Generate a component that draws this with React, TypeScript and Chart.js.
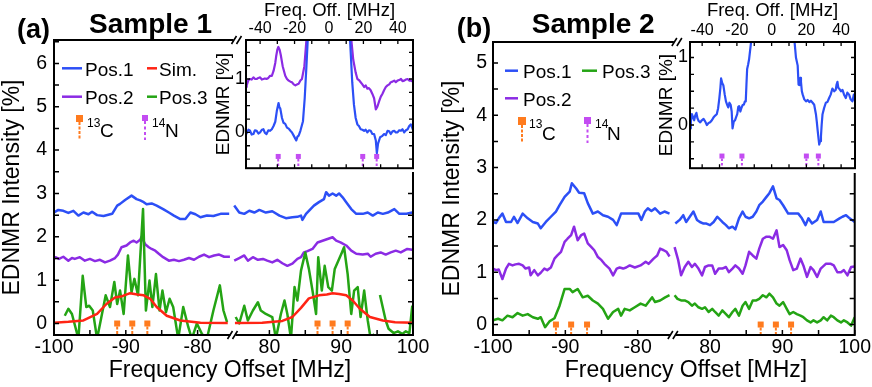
import { useEffect, useRef } from "react";
import { Chart, registerables } from "chart.js";

Chart.register(...registerables);

type P = [number, number | null];

const FONT = '"Liberation Sans", Arial, Helvetica, sans-serif';
const BLUE = "#2C4FF6";
const PURPLE = "#8B2BE4";
const GREEN = "#24A414";
const RED = "#FF2414";
const ORANGE = "#FF7B1E";
const MAGENTA = "#C34CF2";

// ---------------- Sample 1 (a) main panel: [MHz, %] ----------------
const A_POS1_L: P[] = [[-100,2.56],[-99.4,2.62],[-98.7,2.6],[-98,2.55],[-97.3,2.6],[-96.6,2.49],[-95.9,2.56],[-95.2,2.52],[-94.7,2.58],[-94,2.5],[-93.1,2.48],[-91.9,2.53],[-91.2,2.72],[-90.8,2.76],[-90.1,2.85],[-89.2,2.95],[-88.5,2.87],[-88,2.84],[-87.5,2.8],[-87.1,2.75],[-86.4,2.77],[-85.7,2.72],[-84.8,2.64],[-84,2.56],[-83.3,2.49],[-82.4,2.41],[-81.7,2.41],[-81,2.56],[-80.3,2.52],[-79.6,2.45],[-78.7,2.49],[-77.8,2.48],[-76.8,2.53],[-75.6,2.53]];
const A_POS1_R: P[] = [[75.1,2.72],[75.8,2.56],[76.5,2.53],[77.2,2.6],[77.9,2.56],[78.6,2.62],[79.5,2.56],[80.4,2.59],[81.4,2.49],[82.3,2.43],[83.2,2.45],[83.9,2.46],[84.4,2.49],[84.6,2.39],[85.1,2.53],[85.5,2.6],[86.2,2.72],[86.9,2.8],[87.6,2.87],[87.9,3.03],[88.3,2.95],[88.8,3.0],[89.3,2.95],[89.7,3.0],[90.2,2.91],[90.7,2.8],[91.4,2.64],[92.1,2.53],[93,2.53],[93.7,2.56],[94.4,2.49],[95.1,2.56],[95.8,2.53],[96.5,2.56],[97.4,2.64],[98.1,2.53],[99.1,2.53],[99.9,2.56]];
const A_POS2_L: P[] = [[-100,1.49],[-99.8,1.53],[-99.3,1.49],[-98.7,1.54],[-98,1.45],[-97.5,1.51],[-97.1,1.49],[-96.4,1.53],[-95.7,1.45],[-95,1.49],[-94.3,1.44],[-93.6,1.47],[-92.9,1.41],[-92.2,1.45],[-91.5,1.51],[-91.1,1.59],[-90.6,1.76],[-89.9,1.8],[-89.4,1.87],[-88.9,1.91],[-88.5,1.87],[-88,1.93],[-87.8,2.0],[-87.3,1.83],[-86.8,1.76],[-86.4,1.72],[-85.9,1.68],[-85.4,1.61],[-84.8,1.53],[-84,1.45],[-83.3,1.47],[-82.6,1.44],[-81.9,1.47],[-81.2,1.51],[-80.5,1.47],[-79.8,1.54],[-79.1,1.59],[-78.4,1.53],[-77.7,1.57],[-77,1.59],[-76.3,1.54],[-75.5,1.54]];
const A_POS2_R: P[] = [[75.1,1.45],[75.8,1.51],[76.5,1.57],[77,1.45],[77.7,1.53],[78.4,1.47],[79.1,1.49],[79.7,1.45],[80.4,1.41],[81.1,1.47],[81.8,1.39],[82.5,1.33],[83.2,1.38],[83.9,1.49],[84.4,1.53],[84.8,1.64],[85.3,1.67],[86,1.72],[86.7,1.87],[87.4,1.91],[88.1,1.95],[88.8,1.99],[89.3,1.91],[89.9,1.87],[90.7,1.8],[91.4,1.68],[92.1,1.61],[93,1.59],[93.7,1.61],[94.1,1.54],[94.8,1.61],[95.5,1.64],[96.2,1.59],[96.9,1.64],[97.6,1.68],[98.3,1.64],[99.2,1.72],[99.9,1.7]];
const A_POS3_L: P[] = [[-98.5,0.18],[-98,0.34],[-97.5,0.22],[-96.6,-0.35],[-96,1.1],[-95.5,0.38],[-95.1,0.41],[-94.6,0.3],[-94,-0.35],[-93.4,0.15],[-92.8,0.65],[-92.2,0.38],[-91.6,0.96],[-91.2,0.45],[-90.8,0.76],[-90.3,0.22],[-89.7,1.57],[-89.2,0.72],[-88.8,1.03],[-88.3,0.65],[-87.6,2.64],[-87.2,0.3],[-86.7,0.99],[-86.3,0.38],[-85.8,1.14],[-85.3,0.3],[-84.9,0.76],[-84.4,0.26],[-83.9,0.57],[-83.4,0.38],[-82.7,-0.35],[-82,0.38],[-81.3,-0.08],[-80.8,-0.35],[-80.1,0.0],[-79.4,-0.24],[-78.7,-0.35],[-77.8,0.3],[-76.9,0.88],[-76.4,0.3],[-75.9,0.03]];
const A_POS3_R: P[] = [[75.3,0.15],[75.8,0.0],[76.5,0.41],[77,0.07],[77.7,0.3],[78.4,0.49],[78.8,0.3],[79.5,0.22],[80.4,0.15],[80.9,-0.35],[81.6,0.22],[82.1,0.53],[82.5,0.22],[83,-0.35],[83.5,0.84],[83.9,0.53],[84.4,1.22],[85,1.64],[85.5,1.26],[86,0.76],[86.5,0.22],[86.8,1.53],[87.3,0.76],[87.7,1.33],[88.2,0.84],[88.7,0.76],[89.1,1.26],[89.6,1.45],[90.1,1.64],[90.4,1.76],[90.9,1.14],[91.4,0.22],[91.8,0.76],[92.3,0.84],[92.7,0.15],[93.2,0.76],[93.7,0.07],[94.1,-0.35],[94.6,-0.24],[95.0,null],[95.4,0.66],[96.2,0.07],[96.6,-0.12],[97.3,-0.22],[97.9,-0.18],[98.5,-0.24],[99.0,-0.18],[99.5,-0.22],[99.9,0.41]];
const A_SIM_L: P[] = [[-100,0.02],[-98,0.04],[-95.9,0.07],[-94,0.22],[-92.7,0.45],[-91.5,0.6],[-90.5,0.63],[-89.4,0.7],[-88.4,0.67],[-87.5,0.65],[-86.6,0.57],[-85.7,0.38],[-84.3,0.18],[-82.4,0.07],[-79.6,0.02],[-75.8,0.01]];
const A_SIM_R: P[] = [[75.2,0.01],[79,0.02],[81.8,0.06],[83.2,0.15],[84.4,0.36],[85.5,0.58],[86.9,0.65],[88,0.67],[88.8,0.7],[89.7,0.68],[90.7,0.65],[91.6,0.53],[92.6,0.34],[94,0.15],[95.8,0.07],[97.5,0.03],[100,0.02]];
const A_C13: number[] = [-91.2, -89.1, -87.0, 86.7, 88.8, 90.9];

// ---------------- Sample 2 (b) main panel ----------------
const B_POS1_L: P[] = [[-100,1.96],[-99.6,1.94],[-99.2,2.03],[-98.7,2.12],[-98.2,1.96],[-97.5,1.96],[-97.1,2.06],[-96.6,1.94],[-95.9,2.12],[-95.2,2.03],[-94.5,1.96],[-93.8,1.93],[-93.4,1.84],[-92.7,1.96],[-92,2.06],[-91.3,2.16],[-90.8,2.28],[-90.1,2.44],[-89.4,2.54],[-89.1,2.7],[-88.5,2.6],[-88.1,2.52],[-87.4,2.51],[-86.9,2.32],[-86.2,2.12],[-85.5,2.16],[-84.8,2.09],[-84.1,2.06],[-83.4,2.0],[-82.9,1.9],[-82.3,2.12],[-81.6,2.12],[-80.6,2.12],[-79.9,2.12],[-79.5,2.0],[-79,2.16],[-78.6,2.22],[-78.1,2.17],[-77.6,2.22],[-76.9,2.12],[-76.3,2.16],[-75.6,2.12]];
const B_POS1_R: P[] = [[75.2,1.93],[75.8,2.0],[76.3,2.09],[76.7,1.96],[77.2,2.06],[77.7,2.16],[78.2,2.0],[78.6,1.96],[79.1,1.93],[79.5,1.93],[80,1.9],[80.5,1.96],[81,2.06],[81.7,1.96],[82.2,1.9],[82.6,1.84],[83.1,1.87],[83.5,1.82],[84,2.03],[84.5,2.16],[84.9,2.06],[85.4,2.03],[85.9,2.06],[86.4,2.16],[86.8,2.28],[87.3,2.35],[87.8,2.44],[88.2,2.51],[88.7,2.64],[89.2,2.41],[89.6,2.38],[90.1,2.28],[90.8,2.12],[91.5,2.12],[92.2,2.12],[92.7,2.03],[93.2,1.9],[93.6,2.03],[94.1,1.93],[94.8,2.0],[95.3,2.16],[95.7,1.96],[96.4,1.96],[97.1,1.96],[97.9,2.03],[98.3,2.06],[98.8,2.09],[99.3,2.03],[100,1.96]];
const B_POS2_L: P[] = [[-100,1.07],[-99.6,1.04],[-99.2,1.05],[-98.7,0.87],[-98.2,1.07],[-97.8,1.16],[-97.3,1.13],[-96.9,1.15],[-96.4,1.16],[-95.9,1.13],[-95.5,1.07],[-95,1.09],[-94.8,0.94],[-94.3,1.04],[-93.8,0.94],[-93.4,0.99],[-92.9,1.07],[-92.5,1.04],[-92,1.09],[-91.5,1.26],[-91.1,1.32],[-90.6,1.39],[-90.1,1.58],[-89.7,1.64],[-89.2,1.71],[-88.8,1.87],[-88.3,1.61],[-87.8,1.71],[-87.4,1.74],[-86.9,1.55],[-86.4,1.48],[-86,1.42],[-85.5,1.29],[-85,1.23],[-84.6,1.16],[-83.9,1.07],[-83.4,0.94],[-82.9,1.07],[-82.5,1.09],[-82,1.07],[-81.6,1.09],[-81.1,1.13],[-80.4,1.09],[-79.6,1.13],[-78.9,1.2],[-78.5,1.16],[-77.8,1.26],[-77.3,1.32],[-76.9,1.45],[-76.4,1.42],[-76,1.39],[-75.6,1.3]];
const B_POS2_R: P[] = [[75.1,1.48],[75.6,1.23],[76,0.94],[76.5,1.1],[77,1.2],[77.5,1.1],[77.9,1.16],[78.4,1.07],[78.9,0.94],[79.3,1.1],[79.8,1.13],[80.3,1.13],[80.7,0.97],[81.2,1.07],[81.7,1.07],[82.2,1.1],[82.6,1.0],[83.1,1.07],[83.5,1.13],[84,1.07],[84.5,0.97],[84.9,1.13],[85.4,1.39],[85.9,1.32],[86.4,1.26],[86.8,1.45],[87.3,1.64],[87.8,1.68],[88.2,1.68],[88.7,1.64],[89.2,1.8],[89.6,1.48],[90.1,1.52],[90.6,1.42],[91,1.23],[91.5,1.04],[92,1.07],[92.5,1.26],[92.9,1.13],[93.4,0.91],[93.9,1.1],[94.3,1.04],[94.8,0.91],[95.3,1.07],[96,1.16],[96.7,1.16],[97.1,1.13],[97.6,1.0],[98.1,1.0],[98.5,1.04],[99,0.94],[99.5,1.1],[100,1.11]];
const B_POS3_L: P[] = [[-100,0.08],[-99.3,0.11],[-98.7,0.08],[-98,0.17],[-97.3,0.14],[-96.6,0.22],[-95.9,0.17],[-95.2,0.2],[-94.5,0.14],[-93.8,0.11],[-93.4,0.14],[-92.8,-0.05],[-92.2,0.06],[-91.5,0.12],[-90.8,0.36],[-90.1,0.68],[-89.4,0.68],[-89,0.62],[-88.3,0.68],[-87.6,0.52],[-86.9,0.55],[-86.2,0.46],[-85.5,0.4],[-84.8,0.3],[-84.1,0.11],[-83.4,0.24],[-82.7,0.3],[-82.3,0.17],[-81.8,0.3],[-81.1,0.27],[-80.4,0.33],[-79.6,0.4],[-78.9,0.36],[-78.5,0.43],[-78,0.52],[-77.6,0.43],[-76.9,0.46],[-76.2,0.52],[-75.6,0.56]];
const B_POS3_R: P[] = [[75.1,0.56],[75.5,0.49],[76,0.46],[76.5,0.46],[77,0.43],[77.5,0.36],[77.9,0.4],[78.4,0.33],[78.9,0.3],[79.3,0.33],[79.8,0.24],[80.3,0.3],[80.7,0.24],[81.2,0.17],[81.7,0.27],[82.2,0.2],[82.6,0.14],[83.1,0.24],[83.5,0.3],[84,0.17],[84.5,0.36],[84.9,0.43],[85.4,0.3],[85.9,0.46],[86.4,0.46],[86.8,0.49],[87.3,0.56],[87.8,0.52],[88.2,0.59],[88.7,0.52],[89.2,0.4],[89.6,0.36],[90.1,0.43],[90.6,0.3],[91,0.2],[91.5,0.24],[92,0.2],[92.5,0.17],[92.9,0.14],[93.4,0.08],[93.9,0.04],[94.3,0.08],[94.8,0.04],[95.3,0.08],[95.7,0.14],[96.2,0.08],[96.7,0.17],[97.1,0.14],[97.6,0.08],[98.1,0.04],[98.5,0.08],[99,0.04],[99.5,-0.02],[100,0.14]];
const B_C13: number[] = [-91.3, -89.2, -87.0, 87.0, 89.1, 91.2];

// ---------------- Insets: [Freq. Off. MHz, %] ----------------
const IA_POS1: P[] = [[-48.2,-0.02],[-47.8,0.0],[-46.8,0.05],[-45.8,0.03],[-44.9,-0.04],[-43.9,-0.03],[-43,0.04],[-42,0.03],[-41,-0.02],[-40,0.0],[-39,0.05],[-38.1,0.06],[-37.2,-0.01],[-36.3,-0.03],[-35.2,0.04],[-34.2,0.03],[-33.2,0.06],[-32.2,0.12],[-31.2,0.2],[-30.3,0.4],[-29.3,0.55],[-28.8,0.47],[-28.3,0.45],[-27.3,0.27],[-26.4,0.18],[-25.4,0.16],[-24.4,0.09],[-23.4,0.07],[-22.4,0.03],[-21.5,0.0],[-20.5,-0.06],[-19,-0.15],[-18.3,-0.08],[-17.6,-0.06],[-16.6,0.03],[-15.1,0.21],[-14.1,0.64],[-13.1,1.24],[-12.3,1.76],[-10,3],[10,3],[12.2,1.76],[13.5,0.94],[14.5,0.52],[15.5,0.27],[16.5,0.15],[17.4,0.12],[18.4,0.06],[19.4,0.05],[20.4,0.03],[21.3,0.05],[22.3,0.0],[23.2,0.04],[24.2,0.03],[25.2,-0.03],[26.2,-0.03],[27.2,-0.15],[27.8,-0.39],[28.5,-0.21],[29.7,-0.09],[30.8,-0.07],[32,-0.03],[33,-0.05],[34,0.03],[35,0.02],[35.9,-0.03],[36.9,0.02],[37.9,0.03],[38.8,0.0],[39.8,0.0],[40.8,0.04],[41.8,0.03],[42.7,0.06],[43.7,0.0],[44.7,0.04],[45.7,0.06],[46.6,0.12],[47.6,0.15],[48.8,0.05]];
const IA_POS2: P[] = [[-48.2,0.85],[-47.8,0.88],[-46.8,0.98],[-45.8,1.0],[-44.9,0.99],[-43.9,1.03],[-42.9,1.0],[-42,1.0],[-41,1.02],[-40,1.03],[-39,0.99],[-38.1,1.0],[-37.2,1.01],[-36.3,1.0],[-35.2,1.02],[-34.2,1.06],[-33.2,1.06],[-32.2,1.15],[-31.2,1.3],[-30.7,1.42],[-30,1.55],[-29.4,1.6],[-28.7,1.55],[-28,1.45],[-26.9,1.24],[-25.4,1.06],[-24.4,1.0],[-23.4,0.97],[-22.4,0.95],[-21.5,0.94],[-20.5,0.9],[-19.5,0.88],[-18.5,0.9],[-17.6,0.91],[-16.6,0.97],[-15.7,1.0],[-14.3,1.24],[-13.1,1.73],[-11,3],[11,3],[12.9,1.76],[14.1,1.36],[15.5,1.12],[16.5,1.0],[17.4,0.98],[18.4,0.94],[19.4,0.9],[20.4,0.85],[21.3,0.88],[22.3,0.82],[23.2,0.83],[24.2,0.79],[25.2,0.72],[26.2,0.64],[27.2,0.43],[28.1,0.48],[29.1,0.58],[30.1,0.67],[31,0.72],[32,0.79],[33,0.85],[34,0.88],[35,0.9],[35.9,0.94],[36.9,0.95],[37.9,0.97],[38.8,0.94],[39.8,0.97],[40.8,0.98],[41.8,1.0],[42.7,0.96],[43.7,0.97],[44.7,0.99],[45.7,1.0],[46.6,0.97],[47.6,0.97],[48.8,0.95]];
const IB_POS1: P[] = [[-47,-0.05],[-46.5,0.05],[-45.9,0.16],[-45.3,0.12],[-44.6,0.07],[-44,0.14],[-43.3,0.18],[-42.7,0.1],[-42,0.06],[-41.1,0.04],[-40.2,0.07],[-39.2,0.09],[-38.2,0.05],[-37.3,0.0],[-36.3,0.03],[-35.4,0.04],[-34.4,0.07],[-33.5,0.11],[-32.5,0.14],[-31.6,0.16],[-30.8,0.25],[-30.1,0.4],[-29.5,0.55],[-29.1,0.69],[-28.4,0.62],[-27.8,0.59],[-27,0.45],[-26.3,0.35],[-25.6,0.3],[-25,0.26],[-24.3,0.33],[-23.6,0.3],[-23,0.2],[-22.5,-0.05],[-21.8,0.05],[-21.1,0.07],[-20.4,0.12],[-19.8,0.16],[-19.2,0.27],[-18.7,0.28],[-18,0.2],[-17.3,0.26],[-16.6,0.3],[-16,0.3],[-15.4,0.35],[-14.9,0.35],[-14.5,0.6],[-14.1,0.83],[-13.5,0.9],[-13,0.97],[-11.7,1.26],[-10,2.5],[10,2.5],[13.1,1.26],[14,1.0],[15,0.88],[15.5,0.6],[16,0.59],[16.5,0.7],[16.9,0.64],[17.4,0.5],[17.9,0.45],[18.8,0.38],[19.8,0.35],[20.7,0.37],[21.7,0.34],[22.6,0.36],[23.6,0.33],[24.5,0.3],[25.5,0.16],[26,0.05],[26.5,-0.08],[27,-0.2],[27.4,-0.29],[27.9,-0.24],[28.4,-0.17],[28.8,0.0],[29.3,0.16],[30.2,0.25],[31.2,0.33],[32.1,0.34],[33.1,0.4],[34,0.45],[35,0.54],[36,0.5],[36.9,0.52],[37.4,0.6],[37.9,0.64],[38.4,0.55],[38.9,0.54],[39.9,0.5],[40.8,0.52],[41.7,0.45],[42.7,0.4],[43.6,0.48],[44.6,0.45],[45.5,0.38],[46.5,0.35],[47.3,0.45],[48,0.36]];
const IA_N14: number[] = [-29.5, -17.8, 19.6, 27.7];
const IB_N14: number[] = [-28.6, -17.1, 20.0, 26.9];

// ---------------- ticks ----------------
const MAIN_X_TICKS = [-100, -95, -90, -85, -80, 80, 85, 90, 95, 100];
const MAIN_X_LABELS = [-100, -90, -80, 80, 90, 100];
const A_Y_TICKS = [0, 0.5, 1, 1.5, 2, 2.5, 3, 3.5, 4, 4.5, 5, 5.5, 6, 6.5];
const A_Y_LABELS = [0, 1, 2, 3, 4, 5, 6];
const B_Y_TICKS = [0, 0.5, 1, 1.5, 2, 2.5, 3, 3.5, 4, 4.5, 5];
const B_Y_LABELS = [0, 1, 2, 3, 4, 5];
const INSET_X_TICKS = [-40, -30, -20, -10, 0, 10, 20, 30, 40];
const INSET_X_LABELS = [-40, -20, 0, 20, 40];
const IA_Y_TICKS = [-0.5, -0.25, 0, 0.25, 0.5, 0.75, 1, 1.25, 1.5];
const IB_Y_TICKS = [-0.5, -0.25, 0, 0.25, 0.5, 0.75, 1];
const INSET_Y_LABELS = [0, 1];

// broken axis: right segment shifted next to the left one
const BREAK = -75;
const brk = (x: number) => (x < 0 ? x : x - 150);
const unbrk = (v: number) => (v > BREAK ? v + 150 : v);

function brokenData(left: P[], right: P[]) {
  return [
    ...left.map(([x, y]) => ({ x: brk(x), y })),
    { x: BREAK, y: null },
    ...right.map(([x, y]) => ({ x: brk(x), y })),
  ];
}
function plainData(pts: P[]) {
  return pts.map(([x, y]) => ({ x, y }));
}
function lineDs(data: any[], color: string, width: number) {
  return {
    data, borderColor: color, backgroundColor: color, borderWidth: width,
    pointRadius: 0, pointHoverRadius: 0, tension: 0, spanGaps: false, clip: 0,
    fill: false, borderJoinStyle: "round", borderCapStyle: "butt",
  };
}

function pin(ctx: CanvasRenderingContext2D, x: number, yTop: number, size: number, yEnd: number, color: string, dash: number[]) {
  ctx.save();
  ctx.fillStyle = color;
  ctx.fillRect(x - size / 2, yTop, size, size);
  ctx.strokeStyle = color;
  ctx.lineWidth = 2;
  ctx.setLineDash(dash);
  ctx.beginPath();
  ctx.moveTo(x, yTop + size);
  ctx.lineTo(x, yEnd);
  ctx.stroke();
  ctx.restore();
}
function seg(ctx: CanvasRenderingContext2D, x1: number, x2: number, y: number, color: string) {
  ctx.save();
  ctx.strokeStyle = color;
  ctx.lineWidth = 2.5;
  ctx.beginPath();
  ctx.moveTo(x1, y);
  ctx.lineTo(x2, y);
  ctx.stroke();
  ctx.restore();
}
function slash(ctx: CanvasRenderingContext2D, cx: number, cy: number) {
  ctx.save();
  ctx.strokeStyle = "#000";
  ctx.lineWidth = 1.6;
  ctx.beginPath();
  ctx.moveTo(cx - 6, cy + 4);
  ctx.lineTo(cx - 1, cy - 4);
  ctx.moveTo(cx - 1, cy + 4);
  ctx.lineTo(cx + 4, cy - 4);
  ctx.stroke();
  ctx.restore();
}

interface MainSpec {
  datasets: any[];
  yMin: number; yMax: number; yTicks: number[]; yLabels: number[];
  padTop: number; padRight: number; yWidth: number; yTickPad: number; yTitlePad: number;
  insetBottom: number; c13: number[];
  decor: (ctx: CanvasRenderingContext2D) => void;
}

function mainConfig(s: MainSpec): any {
  const framePlugin = {
    id: "mainFrame",
    afterDatasetsDraw(chart: any) {
      const { ctx, chartArea: ca, scales } = chart;
      const x = scales.x, y = scales.y;
      const bx = x.getPixelForValue(BREAK);
      // isotope pins
      for (const v of s.c13) {
        const px = x.getPixelForValue(brk(v));
        const py = y.getPixelForValue(0);
        pin(ctx, px, py - 3, 6, ca.bottom, ORANGE, [3, 1.5]);
      }
      ctx.save();
      ctx.strokeStyle = "#000";
      ctx.lineWidth = 2;
      ctx.beginPath();
      ctx.moveTo(ca.left, ca.top - 1); ctx.lineTo(ca.left, ca.bottom + 1);
      ctx.moveTo(ca.left - 1, ca.bottom); ctx.lineTo(bx - 3, ca.bottom);
      ctx.moveTo(bx + 2, ca.bottom); ctx.lineTo(ca.right + 1, ca.bottom);
      ctx.moveTo(ca.right, s.insetBottom); ctx.lineTo(ca.right, ca.bottom + 1);
      ctx.moveTo(ca.left - 1, ca.top); ctx.lineTo(bx, ca.top);
      ctx.stroke();
      ctx.lineWidth = 1.5;
      ctx.beginPath();
      for (const t of y.ticks) {
        const py = y.getPixelForValue(t.value);
        ctx.moveTo(ca.left, py); ctx.lineTo(ca.left + 5, py);
        if (py > s.insetBottom + 4) { ctx.moveTo(ca.right, py); ctx.lineTo(ca.right - 5, py); }
      }
      for (const t of x.ticks) {
        const px = x.getPixelForValue(t.value);
        ctx.moveTo(px, ca.bottom); ctx.lineTo(px, ca.bottom - 5);
      }
      ctx.stroke();
      ctx.restore();
      slash(ctx, bx, ca.bottom);
      slash(ctx, bx + 4, ca.top);
    },
    afterDraw(chart: any) {
      s.decor(chart.ctx);
    },
  };
  return {
    type: "line",
    data: { datasets: s.datasets },
    options: {
      animation: false, responsive: false, devicePixelRatio: 1, events: [],
      layout: { padding: { left: 0, right: s.padRight, top: s.padTop, bottom: 0 } },
      plugins: { legend: { display: false }, tooltip: { enabled: false } },
      scales: {
        x: {
          type: "linear", position: "bottom", min: -100, max: -50,
          afterBuildTicks: (sc: any) => { sc.ticks = MAIN_X_TICKS.map((v) => ({ value: brk(v) })); },
          afterFit: (sc: any) => { sc.height = 52; },
          grid: { display: false, drawTicks: false }, border: { display: false },
          ticks: {
            autoSkip: false, maxRotation: 0, minRotation: 0, padding: 1, color: "#000",
            font: { family: FONT, size: 19.5 },
            callback: (v: any) => { const r = unbrk(Number(v)); return MAIN_X_LABELS.includes(r) ? String(r) : ""; },
          },
        },
        y: {
          type: "linear", min: s.yMin, max: s.yMax,
          afterBuildTicks: (sc: any) => { sc.ticks = s.yTicks.map((v) => ({ value: v })); },
          afterFit: (sc: any) => { sc.width = s.yWidth; },
          grid: { display: false, drawTicks: false }, border: { display: false },
          ticks: {
            autoSkip: false, padding: s.yTickPad, color: "#000",
            font: { family: FONT, size: 19.5 },
            callback: (v: any) => (s.yLabels.includes(Number(v)) ? String(v) : ""),
          },
          title: {
            display: true, text: "EDNMR Intensity [%]", color: "#000",
            font: { family: FONT, size: 23, lineHeight: 1 },
            padding: { top: s.yTitlePad, bottom: 0 },
          },
        },
      },
    },
    plugins: [framePlugin],
  };
}

interface InsetSpec {
  datasets: any[];
  xMin: number; xMax: number; yMin: number; yMax: number; yTicks: number[];
  xHeight: number; yWidth: number; padRight: number; padBottom: number;
  xTickPad: number; yTickPad: number; yTitlePad: number;
  n14: number[]; n14Level: number;
}

function insetConfig(s: InsetSpec): any {
  const insetPlugin = {
    id: "insetFrame",
    beforeDraw(chart: any) {
      const { ctx, chartArea: ca } = chart;
      ctx.save();
      ctx.fillStyle = "#fff";
      ctx.fillRect(ca.left, ca.top, ca.right - ca.left, ca.bottom - ca.top);
      ctx.restore();
    },
    afterDatasetsDraw(chart: any) {
      const { ctx, chartArea: ca, scales } = chart;
      const x = scales.x, y = scales.y;
      for (const v of s.n14) {
        const px = x.getPixelForValue(v);
        const py = y.getPixelForValue(s.n14Level);
        pin(ctx, px, py - 2.5, 5, ca.bottom, MAGENTA, [2.5, 2]);
      }
      ctx.save();
      ctx.strokeStyle = "#000";
      ctx.lineWidth = 2;
      ctx.strokeRect(ca.left, ca.top, ca.right - ca.left, ca.bottom - ca.top);
      ctx.lineWidth = 1.3;
      ctx.beginPath();
      for (const t of x.ticks) {
        const px = x.getPixelForValue(t.value);
        ctx.moveTo(px, ca.top); ctx.lineTo(px, ca.top + 4);
        ctx.moveTo(px, ca.bottom); ctx.lineTo(px, ca.bottom - 4);
      }
      for (const t of y.ticks) {
        const py = y.getPixelForValue(t.value);
        ctx.moveTo(ca.left, py); ctx.lineTo(ca.left + 4, py);
        ctx.moveTo(ca.right, py); ctx.lineTo(ca.right - 4, py);
      }
      ctx.stroke();
      ctx.restore();
    },
  };
  return {
    type: "line",
    data: { datasets: s.datasets },
    options: {
      animation: false, responsive: false, devicePixelRatio: 1, events: [],
      layout: { padding: { left: 0, right: s.padRight, top: 0, bottom: s.padBottom } },
      plugins: { legend: { display: false }, tooltip: { enabled: false } },
      scales: {
        x: {
          type: "linear", position: "top", min: s.xMin, max: s.xMax,
          afterBuildTicks: (sc: any) => { sc.ticks = INSET_X_TICKS.map((v) => ({ value: v })); },
          afterFit: (sc: any) => { sc.height = s.xHeight; },
          grid: { display: false, drawTicks: false }, border: { display: false },
          ticks: {
            autoSkip: false, maxRotation: 0, minRotation: 0, padding: s.xTickPad, color: "#000",
            font: { family: FONT, size: 16 },
            callback: (v: any) => (INSET_X_LABELS.includes(Number(v)) ? String(v) : ""),
          },
          title: {
            display: true, text: "Freq. Off. [MHz]", color: "#000",
            font: { family: FONT, size: 18.5, lineHeight: 1.2 }, padding: 0,
          },
        },
        y: {
          type: "linear", min: s.yMin, max: s.yMax,
          afterBuildTicks: (sc: any) => { sc.ticks = s.yTicks.map((v) => ({ value: v })); },
          afterFit: (sc: any) => { sc.width = s.yWidth; },
          grid: { display: false, drawTicks: false }, border: { display: false },
          ticks: {
            autoSkip: false, padding: s.yTickPad, color: "#000",
            font: { family: FONT, size: 18 },
            callback: (v: any) => (INSET_Y_LABELS.includes(Number(v)) ? String(v) : ""),
          },
          title: {
            display: true, text: "EDNMR [%]", color: "#000",
            font: { family: FONT, size: 19, lineHeight: 1 },
            padding: { top: s.yTitlePad, bottom: 0 },
          },
        },
      },
    },
    plugins: [insetPlugin],
  };
}

function decorA(ctx: CanvasRenderingContext2D) {
  ctx.save();
  ctx.fillStyle = "#000";
  ctx.textBaseline = "alphabetic";
  ctx.textAlign = "left";
  ctx.font = `bold 27px ${FONT}`;
  ctx.fillText("(a)", 17, 37.5);
  ctx.font = `bold 28px ${FONT}`;
  ctx.fillText("Sample 1", 89, 32.7);
  seg(ctx, 62, 82, 68.3, BLUE);
  seg(ctx, 147, 157, 68.3, RED);
  seg(ctx, 62, 82, 96.7, PURPLE);
  seg(ctx, 147, 157, 96.7, GREEN);
  ctx.font = `19px ${FONT}`;
  ctx.fillText("Pos.1", 85, 76);
  ctx.fillText("Sim.", 159, 76);
  ctx.fillText("Pos.2", 85, 104);
  ctx.fillText("Pos.3", 159, 104);
  pin(ctx, 79.5, 115, 7, 140, ORANGE, [3, 1.5]);
  pin(ctx, 145, 115, 6, 140, MAGENTA, [3, 2.5]);
  ctx.font = `12px ${FONT}`;
  ctx.fillText("13", 87, 126.7);
  ctx.fillText("14", 152, 126.7);
  ctx.font = `19px ${FONT}`;
  ctx.fillText("C", 100, 136.7);
  ctx.fillText("N", 165, 136.7);
  ctx.textAlign = "center";
  ctx.font = `23px ${FONT}`;
  ctx.fillText("Frequency Offset [MHz]", 230, 377);
  ctx.restore();
}

function decorB(ctx: CanvasRenderingContext2D) {
  const o = 436;
  ctx.save();
  ctx.fillStyle = "#000";
  ctx.textBaseline = "alphabetic";
  ctx.textAlign = "left";
  ctx.font = `bold 27px ${FONT}`;
  ctx.fillText("(b)", 456.7 - o, 37.3);
  ctx.font = `bold 28px ${FONT}`;
  ctx.fillText("Sample 2", 531.7 - o, 33.3);
  seg(ctx, 505 - o, 518 - o, 70.7, BLUE);
  seg(ctx, 582 - o, 597 - o, 70.7, GREEN);
  seg(ctx, 505 - o, 518 - o, 98.3, PURPLE);
  ctx.font = `19px ${FONT}`;
  ctx.fillText("Pos.1", 523 - o, 78.3);
  ctx.fillText("Pos.3", 602 - o, 78.3);
  ctx.fillText("Pos.2", 523 - o, 106);
  pin(ctx, 522 - o, 117, 8, 143, ORANGE, [3, 1.5]);
  pin(ctx, 587.5 - o, 117, 7, 143, MAGENTA, [3, 2.5]);
  ctx.font = `12px ${FONT}`;
  ctx.fillText("13", 529 - o, 128.3);
  ctx.fillText("14", 595 - o, 128.3);
  ctx.font = `19px ${FONT}`;
  ctx.fillText("C", 542 - o, 140);
  ctx.fillText("N", 607 - o, 140);
  ctx.textAlign = "center";
  ctx.font = `23px ${FONT}`;
  ctx.fillText("Frequency Offset [MHz]", 686 - o, 377);
  ctx.restore();
}

const makeMainA = () =>
  mainConfig({
    datasets: [
      lineDs(brokenData(A_SIM_L, A_SIM_R), RED, 2.5),
      lineDs(brokenData(A_POS3_L, A_POS3_R), GREEN, 2.5),
      lineDs(brokenData(A_POS2_L, A_POS2_R), PURPLE, 2.5),
      lineDs(brokenData(A_POS1_L, A_POS1_R), BLUE, 2.5),
    ],
    yMin: -0.265, yMax: 6.54, yTicks: A_Y_TICKS, yLabels: A_Y_LABELS,
    padTop: 40, padRight: 23, yWidth: 54, yTickPad: 7, yTitlePad: 1.4,
    insetBottom: 172, c13: A_C13, decor: decorA,
  });

const makeMainB = () =>
  mainConfig({
    datasets: [
      lineDs(brokenData(B_POS3_L, B_POS3_R), GREEN, 2.5),
      lineDs(brokenData(B_POS2_L, B_POS2_R), PURPLE, 2.5),
      lineDs(brokenData(B_POS1_L, B_POS1_R), BLUE, 2.5),
    ],
    yMin: -0.2, yMax: 5.4, yTicks: B_Y_TICKS, yLabels: B_Y_LABELS,
    padTop: 42, padRight: 17, yWidth: 57, yTickPad: 6, yTitlePad: 5.4,
    insetBottom: 173, c13: B_C13, decor: decorB,
  });

const makeInsetA = () =>
  insetConfig({
    datasets: [lineDs(plainData(IA_POS1), BLUE, 2.2), lineDs(plainData(IA_POS2), PURPLE, 2.2)],
    xMin: -48.2, xMax: 48.8, yMin: -0.67, yMax: 1.73, yTicks: IA_Y_TICKS,
    xHeight: 40, yWidth: 46, padRight: 23, padBottom: 8,
    xTickPad: 2, yTickPad: 1, yTitlePad: 14.6,
    n14: IA_N14, n14Level: -0.45,
  });

const makeInsetB = () =>
  insetConfig({
    datasets: [lineDs(plainData(IB_POS1), BLUE, 2.2)],
    xMin: -47, xMax: 48, yMin: -0.64, yMax: 1.23, yTicks: IB_Y_TICKS,
    xHeight: 42, yWidth: 54, padRight: 17, padBottom: 8,
    xTickPad: 1.5, yTickPad: 2, yTitlePad: 20.9,
    n14: IB_N14, n14Level: -0.46,
  });

function ChartBox(props: { left: number; top: number; width: number; height: number; make: () => any }) {
  const { left, top, width, height, make } = props;
  const ref = useRef<HTMLCanvasElement | null>(null);
  useEffect(() => {
    if (!ref.current) return;
    const chart = new Chart(ref.current, make());
    return () => chart.destroy();
  }, [make]);
  return (
    <canvas
      ref={ref}
      width={width}
      height={height}
      style={{ position: "absolute", left, top, width, height }}
    />
  );
}

export default function App() {
  return (
    <div style={{ position: "absolute", left: 0, top: 0, width: 872, height: 387, background: "#fff", overflow: "hidden" }}>
      <ChartBox left={0} top={0} width={436} height={387} make={makeMainA} />
      <ChartBox left={436} top={0} width={436} height={387} make={makeMainB} />
      <ChartBox left={200} top={0} width={236} height={180} make={makeInsetA} />
      <ChartBox left={636} top={0} width={236} height={181} make={makeInsetB} />
    </div>
  );
}
